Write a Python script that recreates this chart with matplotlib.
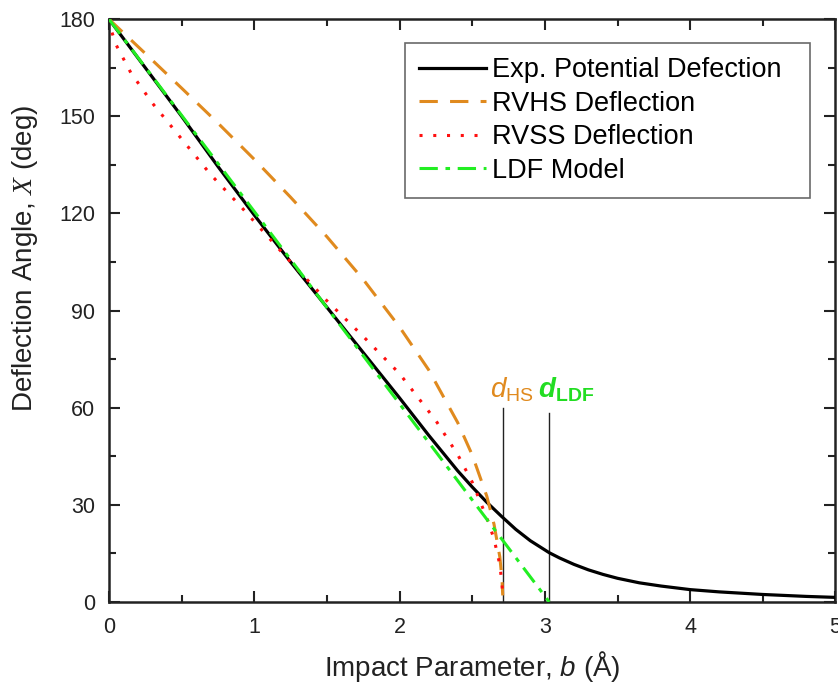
import matplotlib
matplotlib.use("Agg")
import matplotlib.pyplot as plt
from matplotlib.ticker import MultipleLocator

plt.rcParams['font.family'] = ['Liberation Sans', 'DejaVu Sans']
plt.rcParams['mathtext.fontset'] = 'custom'
plt.rcParams['mathtext.rm'] = 'Liberation Sans'
plt.rcParams['mathtext.it'] = 'Liberation Sans:italic'
plt.rcParams['mathtext.bf'] = 'Liberation Sans:bold:italic'
plt.rcParams['mathtext.sf'] = 'Liberation Sans:bold'
plt.rcParams['mathtext.cal'] = 'Liberation Serif:italic'

# Experimental potential deflection
exp_b = [0.0, 0.25, 0.5, 0.75, 1.0, 1.25, 1.5, 1.75, 2.0, 2.2, 2.4, 2.5, 2.6, 2.7, 2.8, 2.9,
         3.03, 3.1, 3.2, 3.3, 3.4, 3.5, 3.65, 3.8, 4.0, 4.2, 4.5, 4.8, 5.0]
exp_chi = [180, 165, 150, 134.5, 119.5, 105, 91, 77, 63, 51.5, 40.5, 35.5, 30.8, 26.5, 22.4, 18.9,
           15.2, 13.6, 11.6, 9.9, 8.5, 7.3, 5.9, 4.9, 3.8, 3.1, 2.3, 1.7, 1.4]

# RVHS deflection (hard sphere, d_HS)
hs_b = [0.0, 0.25, 0.5, 0.75, 1.0, 1.25, 1.5, 1.75, 2.0, 2.2, 2.4, 2.5, 2.6, 2.65, 2.69, 2.705, 2.71]
hs_chi = [180, 169.4, 158.7, 147.9, 136.7, 125.0, 112.8, 99.6, 84.9, 71.7, 55.4, 45.4, 32.7, 24.0, 13.9, 7.0, 2.0]

# RVSS deflection (soft sphere)
ss_b = [0.0, 0.02, 0.05, 0.15, 0.3, 0.5, 0.7, 0.9, 1.0, 1.25, 1.5, 1.75, 2.0, 2.25, 2.4, 2.5, 2.6, 2.65, 2.69, 2.705, 2.71]
ss_chi = [180, 176, 172, 163.5, 154, 143, 132, 122.5, 117.5, 105, 93, 82, 70.5, 56, 45.5, 37, 26, 19.5, 11.5, 5.5, 2.0]

# LDF model
ldf_b = [0.0, 1.0, 2.0, 3.03]
ldf_chi = [180, 120.6, 61.2, 0.0]

# Characteristic diameters
d_hs = 2.71
d_ldf = 3.03
d_hs_top = 60
d_ldf_top = 58.5

labels = ['Exp. Potential Defection', 'RVHS Deflection', 'RVSS Deflection', 'LDF Model']

fig = plt.figure(figsize=(8.38, 6.84), dpi=100)
ax = fig.add_axes([0.130, 0.120, 0.867, 0.852])

ax.plot(exp_b, exp_chi, color='black', lw=2.3, label=labels[0] + '  ', zorder=3)
ax.plot(hs_b, hs_chi, color='#E08A1E', lw=2.2, dashes=(6, 4), label=labels[1], zorder=4)
ax.plot(ss_b, ss_chi, color='#FF1010', lw=2.2, dashes=(1, 3.5), label=labels[2], zorder=4)
ax.plot(ldf_b, ldf_chi, color='#22EE22', lw=2.2, dashes=(6, 2.5, 1.5, 2.5), label=labels[3], zorder=5)

ax.plot([d_hs, d_hs], [0, d_hs_top], color='#222222', lw=1.0, zorder=2)
ax.plot([d_ldf, d_ldf], [0, d_ldf_top], color='#222222', lw=1.0, zorder=2)

ax.text(2.62, 61, r'$\mathit{d}_{\mathrm{HS}}$', color='#E08A1E', fontsize=20, ha='left', va='bottom')
ax.text(2.95, 61, r'$\mathbf{d}_{\mathsf{LDF}}$', color='#22DD22', fontsize=20, ha='left', va='bottom')

ax.set_xlim(0, 5)
ax.set_ylim(0, 180)
ax.xaxis.set_major_locator(MultipleLocator(1))
ax.xaxis.set_minor_locator(MultipleLocator(0.5))
ax.yaxis.set_major_locator(MultipleLocator(30))
ax.yaxis.set_minor_locator(MultipleLocator(15))
ax.tick_params(which='both', direction='in', top=True, right=True, width=1.5, colors='#222222', labelcolor='#222222')
ax.tick_params(which='major', length=8, labelsize=15.5)
ax.tick_params(axis='y', which='major', pad=10)
ax.tick_params(axis='x', which='major', pad=11)
ax.tick_params(which='minor', length=5)
for s in ax.spines.values():
    s.set_linewidth(1.8)
    s.set_color('#222222')

ax.set_xlabel(r'Impact Parameter, $b$ (Å)', fontsize=20, labelpad=8, color='#222222')
ax.set_ylabel(r'Deflection Angle, $\mathcal{X}$ (deg)', fontsize=20, color='#222222')
ax.yaxis.set_label_coords(-0.095, 0.59)

leg = ax.legend(loc='upper right', bbox_to_anchor=(0.9656, 0.959), fontsize=19.5, handlelength=2.5,
                frameon=True, fancybox=False, edgecolor='#444444', borderpad=0.52,
                labelspacing=0.28, handletextpad=0.2, borderaxespad=0)
leg.get_frame().set_linewidth(1.2)

fig.savefig('out.png', dpi=100)
